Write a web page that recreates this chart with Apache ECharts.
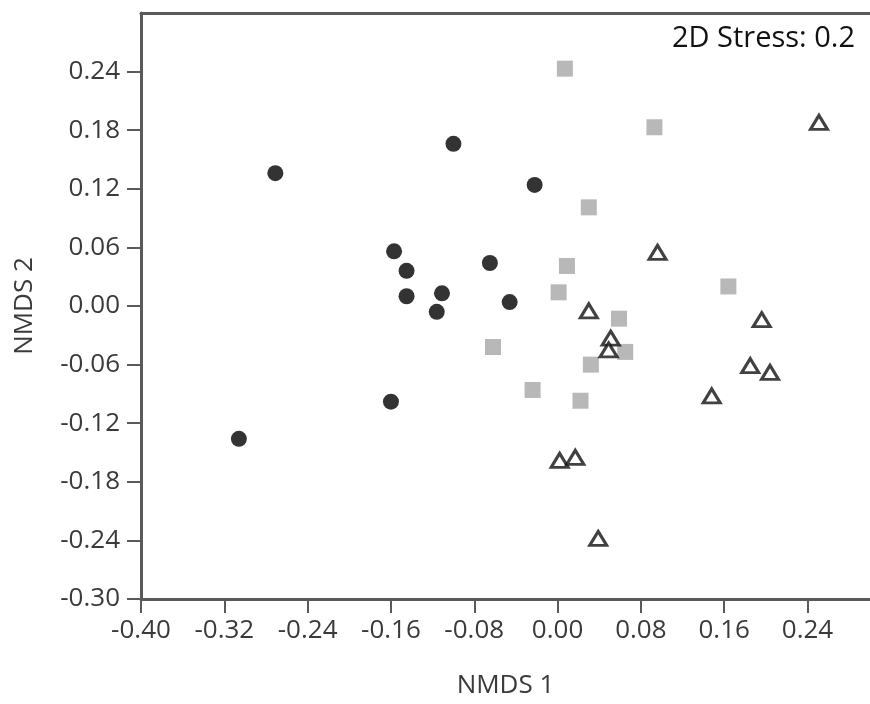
<!DOCTYPE html>
<html>
<head>
<meta charset="utf-8">
<script src="https://cdn.jsdelivr.net/npm/echarts@6/dist/echarts.min.js"></script>
<style>html,body{margin:0;padding:0;background:#fff}#c{width:870px;height:704px}</style>
</head>
<body>
<div id="c"></div>
<script>
// Tick labels
var xTicks = [-0.40, -0.32, -0.24, -0.16, -0.08, 0.00, 0.08, 0.16, 0.24];
var yTicks = [-0.30, -0.24, -0.18, -0.12, -0.06, 0.00, 0.06, 0.12, 0.18, 0.24];

// Group 1: filled black circles [NMDS1, NMDS2]
var circles = [
  [-0.271, 0.136], [-0.100, 0.166], [-0.022, 0.124], [-0.157, 0.056],
  [-0.145, 0.036], [-0.065, 0.044], [-0.145, 0.010], [-0.111, 0.013],
  [-0.116, -0.006], [-0.046, 0.004], [-0.160, -0.098], [-0.306, -0.136]
];
// Group 2: grey squares
var squares = [
  [0.007, 0.243], [0.093, 0.183], [0.030, 0.101], [0.009, 0.041],
  [0.001, 0.014], [0.059, -0.013], [-0.062, -0.042], [0.065, -0.047],
  [0.032, -0.060], [-0.024, -0.086], [0.022, -0.097], [0.164, 0.020]
];
// Group 3: open triangles
var triangles = [
  [0.251, 0.188], [0.096, 0.055], [0.030, -0.005], [0.051, -0.033],
  [0.049, -0.045], [0.196, -0.014], [0.185, -0.061], [0.204, -0.068],
  [0.148, -0.092], [0.002, -0.158], [0.017, -0.155], [0.039, -0.238]
];
var stressText = '2D Stress: 0.2';

var axisColor = '#5a5a5a';
var labelFont = {fontFamily: 'Open Sans', fontSize: 26, color: '#3a3a3a'};

var chart = echarts.init(document.getElementById('c'), null, {renderer: 'canvas'});
chart.setOption({
  animation: false,
  backgroundColor: '#fff',
  grid: {left: 141, top: 13, width: 736, height: 588, containLabel: false},
  xAxis: [{
    type: 'value', min: -0.40, max: 0.30, position: 'bottom',
    name: 'NMDS 1', nameLocation: 'middle', nameGap: 74,
    nameTextStyle: labelFont,
    axisLine: {show: true, onZero: false, lineStyle: {color: axisColor, width: 3}},
    axisTick: {show: true, inside: false, length: 14, customValues: xTicks, lineStyle: {color: axisColor, width: 2}},
    axisLabel: {show: true, margin: 19, customValues: xTicks, formatter: function (v) { return v.toFixed(2); }, fontFamily: labelFont.fontFamily, fontSize: labelFont.fontSize, color: labelFont.color},
    splitLine: {show: false}
  }, {
    type: 'value', min: -0.40, max: 0.30, position: 'top',
    axisLine: {show: true, onZero: false, lineStyle: {color: axisColor, width: 3}},
    axisTick: {show: false}, axisLabel: {show: false}, splitLine: {show: false}
  }],
  yAxis: {
    type: 'value', min: -0.30, max: 0.30,
    name: 'NMDS 2', nameLocation: 'middle', nameGap: 103, nameRotate: 90,
    nameTextStyle: labelFont,
    axisLine: {show: true, onZero: false, lineStyle: {color: axisColor, width: 3}},
    axisTick: {show: true, inside: false, length: 14, customValues: yTicks, lineStyle: {color: axisColor, width: 2}},
    axisLabel: {show: true, margin: 21, customValues: yTicks, formatter: function (v) { return v.toFixed(2); }, fontFamily: labelFont.fontFamily, fontSize: labelFont.fontSize, color: labelFont.color},
    splitLine: {show: false}
  },
  series: [{
    type: 'scatter', data: circles, symbol: 'circle', symbolSize: 16,
    itemStyle: {color: '#000'}, emphasis: {disabled: true}
  }, {
    type: 'scatter', data: squares, symbol: 'rect', symbolSize: 16,
    itemStyle: {color: '#a6a6a6'}, emphasis: {disabled: true}
  }, {
    type: 'scatter', data: triangles, symbol: 'triangle', symbolSize: [17, 14],
    itemStyle: {color: '#fff', borderColor: '#111', borderWidth: 3}, emphasis: {disabled: true}
  }],
  graphic: [{
    type: 'text', right: 15, top: 24,
    style: {text: stressText, fontFamily: 'Open Sans', fontSize: 29, fill: '#111'}
  }]
});
</script>
</body>
</html>
